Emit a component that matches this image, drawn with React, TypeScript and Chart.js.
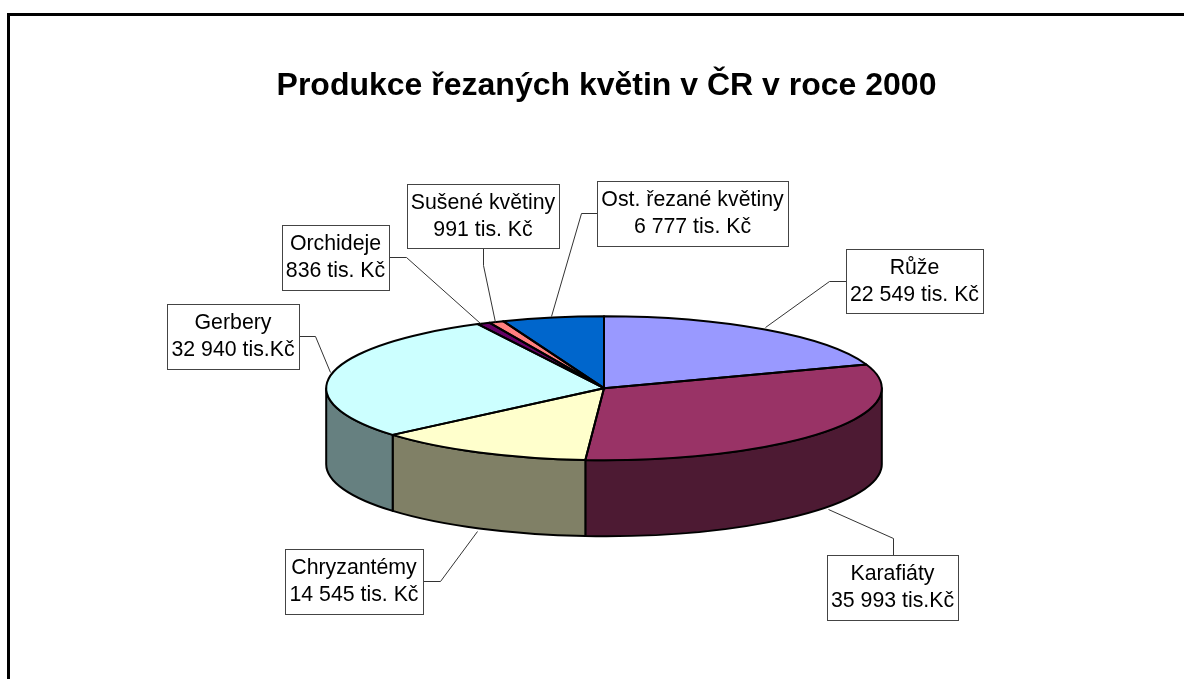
import React, { useEffect, useRef } from "react";
import { Chart, registerables } from "chart.js";

Chart.register(...registerables);

const TITLE = "Produkce řezaných květin v ČR v roce 2000";
const categories = ["Růže", "Karafiáty", "Chryzantémy", "Gerbery", "Orchideje", "Sušené květiny", "Ost. řezané květiny"];
const values = [22549, 35993, 14545, 32940, 836, 991, 6777];
const valueLabels = ["22 549 tis. Kč", "35 993 tis.Kč", "14 545 tis. Kč", "32 940 tis.Kč", "836 tis. Kč", "991 tis. Kč", "6 777 tis. Kč"];
const topColors = ["#9999ff", "#993366", "#ffffcc", "#ccffff", "#660066", "#ff8080", "#0066cc"];
const sideColors = ["#4d4d80", "#4d1a33", "#808066", "#668080", "#330033", "#804040", "#003366"];

// box x, y, w, h and leader polyline for every category label
const labelLayout = [
  { box: [846, 249, 137, 64], line: [[846, 281], [829, 281], [765, 327]] },
  { box: [827, 555, 131, 65], line: [[893, 555], [893, 538], [828, 509]] },
  { box: [285, 549, 138, 65], line: [[423, 581], [440, 581], [477, 531]] },
  { box: [167, 304, 132, 65], line: [[299, 336], [315, 336], [330, 372]] },
  { box: [282, 225, 107, 65], line: [[389, 257], [406, 257], [480, 323]] },
  { box: [407, 184, 152, 64], line: [[483, 248], [483, 265], [495, 322]] },
  { box: [597, 181, 191, 65], line: [[597, 213], [581, 213], [551, 316]] },
];

const TILT = 72 / 278;
const DEPTH = 76;

const pie3d = {
  id: "pie3d",
  afterLayout(chart: any) {
    chart.titleBlock.left += 2.5;
    chart.titleBlock.right += 2.5;
  },
  beforeDraw(chart: any) {
    const { ctx, width } = chart;
    ctx.save();
    ctx.fillStyle = "#ffffff";
    ctx.fillRect(0, 0, width, chart.height);
    ctx.fillStyle = "#000000";
    ctx.fillRect(7, 13, 3, chart.height - 13);
    ctx.fillRect(7, 13, width - 7, 3);
    ctx.restore();
  },
  beforeDatasetsDraw(chart: any) {
    const { ctx } = chart;
    const arcs = chart.getDatasetMeta(0).data;
    const { x, y, outerRadius } = arcs[0];
    const ry = outerRadius * TILT;

    arcs.forEach((arc: any, i: number) => {
      const s = Math.max(arc.startAngle, 0);
      const e = Math.min(arc.endAngle, Math.PI);
      if (e <= s) return;
      ctx.save();
      ctx.beginPath();
      ctx.ellipse(x, y, outerRadius, ry, 0, s, e, false);
      ctx.ellipse(x, y + DEPTH, outerRadius, ry, 0, e, s, true);
      ctx.closePath();
      ctx.fillStyle = sideColors[i];
      ctx.fill();
      ctx.lineWidth = 2;
      ctx.strokeStyle = "#000000";
      ctx.lineJoin = "round";
      ctx.stroke();
      ctx.restore();
    });

    ctx.save();
    ctx.translate(0, y);
    ctx.scale(1, TILT);
    ctx.translate(0, -y);
  },
  afterDatasetsDraw(chart: any) {
    const { ctx } = chart;
    ctx.restore();
    const arcs = chart.getDatasetMeta(0).data;
    const { x, y, outerRadius } = arcs[0];
    const ry = outerRadius * TILT;

    ctx.save();
    ctx.strokeStyle = "#000000";
    ctx.lineWidth = 2;
    ctx.lineJoin = "round";
    arcs.forEach((arc: any) => {
      ctx.beginPath();
      ctx.moveTo(x, y);
      ctx.ellipse(x, y, outerRadius, ry, 0, arc.startAngle, arc.endAngle, false);
      ctx.closePath();
      ctx.stroke();
    });
    ctx.restore();

    ctx.save();
    ctx.textAlign = "center";
    ctx.textBaseline = "middle";
    ctx.font = '21.3px "Liberation Sans", Arial, sans-serif';
    labelLayout.forEach((l, i) => {
      ctx.strokeStyle = "#333333";
      ctx.lineWidth = 1;
      ctx.beginPath();
      l.line.forEach(([px, py], k) => {
        if (k === 0) ctx.moveTo(px + 0.5, py + 0.5);
        else ctx.lineTo(px + 0.5, py + 0.5);
      });
      ctx.stroke();
      const [bx, by, bw, bh] = l.box;
      ctx.fillStyle = "#ffffff";
      ctx.fillRect(bx, by, bw, bh);
      ctx.strokeStyle = "#444444";
      ctx.strokeRect(bx + 0.5, by + 0.5, bw, bh);
      ctx.fillStyle = "#000000";
      ctx.fillText(categories[i], bx + bw / 2, by + 19);
      ctx.fillText(valueLabels[i], bx + bw / 2, by + 46);
    });
    ctx.restore();
  },
};

export default function App() {
  const ref = useRef<HTMLCanvasElement>(null);
  useEffect(() => {
    document.body.style.margin = "0";
    const chart = new Chart(ref.current as HTMLCanvasElement, {
      type: "pie",
      data: {
        labels: categories,
        datasets: [{ data: values, backgroundColor: topColors, borderWidth: 0 }],
      },
      options: {
        responsive: false,
        animation: false,
        layout: { padding: { left: 24, right: 0, top: 0, bottom: 13 } },
        plugins: {
          legend: { display: false },
          tooltip: { enabled: false },
          title: {
            display: true,
            text: TITLE,
            color: "#000000",
            font: { family: '"Liberation Sans", Arial, sans-serif', size: 32, weight: "bold" },
            padding: { top: 67, bottom: 5 },
          },
        },
      },
      plugins: [pie3d],
    } as any);
    return () => chart.destroy();
  }, []);
  return <canvas ref={ref} width={1184} height={679} style={{ display: "block" }} />;
}
